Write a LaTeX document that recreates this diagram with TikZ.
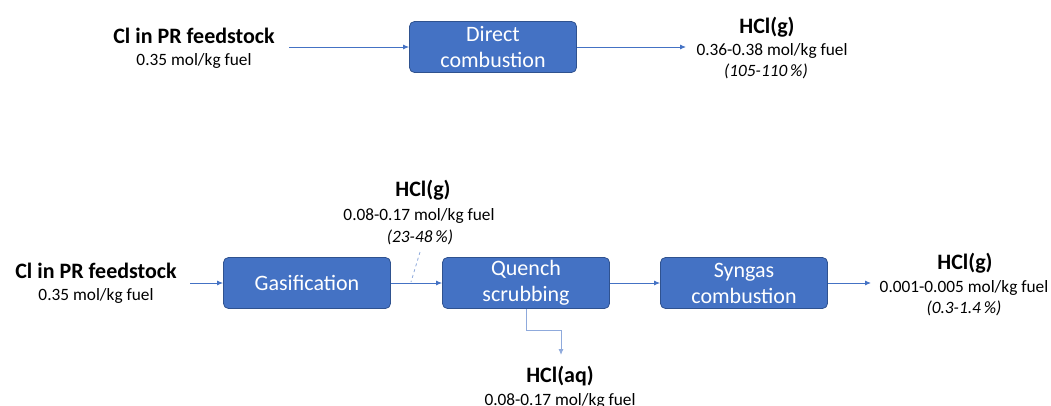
\documentclass[tikz,border=0pt]{standalone}
\usepackage{fontspec}
\setmainfont{Carlito}
\usetikzlibrary{arrows.meta}
\definecolor{boxblue}{HTML}{4472C4}
\definecolor{boxedge}{HTML}{2F528F}
\definecolor{lineblue}{HTML}{4472C4}
\definecolor{lightblue}{HTML}{8FAADC}
\begin{document}
\begin{tikzpicture}[x=1pt,y=-1pt,
  proc/.style={rectangle, rounded corners=5pt, fill=boxblue, draw=boxedge, line width=0.8pt,
    minimum width=167pt, minimum height=51pt, text=white,
    font=\fontsize{22}{26}\selectfont, align=center, inner sep=0pt},
  title/.style={font=\bfseries\fontsize{22}{26}\selectfont, anchor=base, inner sep=0pt},
  sub/.style={font=\fontsize{17.3}{20}\selectfont, anchor=base, inner sep=0pt},
  subit/.style={font=\itshape\fontsize{17.3}{20}\selectfont, anchor=base, inner sep=0pt},
  flow/.style={draw=lineblue, line width=0.9pt, -{Latex[length=6pt,width=5pt]}}
]
\useasboundingbox (0,0) rectangle (1051,405);
\clip (0,0) rectangle (1051,405);

% top row
\node[proc] (dc) at (493,47) {Direct\\combustion};
\node[title] (t1) at (194,43) {Cl in PR feedstock};
\node[sub] (t1s) at (194,65) {0.35 mol/kg fuel};
\coordinate (a1s) at (289,47);
\coordinate (a1e) at (686,47);
\draw[flow] (a1s) -- (dc.west);
\draw[flow] (dc.east) -- (a1e);
\node[title] (h1) at (767,33) {HCl(g)};
\node[sub] (h1s) at (772,55) {0.36-0.38 mol/kg fuel};
\node[subit] (h1p) at (766,76) {(105-110\,\%)};

% bottom row
\node[proc] (gas) at (307,283) {Gasification};
\node[proc] (qs) at (526,283) {Quench\\scrubbing};
\node[proc] (sc) at (744,283) {Syngas\\combustion};
\node[title] (t2) at (96,278) {Cl in PR feedstock};
\node[sub] (t2s) at (96,300) {0.35 mol/kg fuel};
\coordinate (a2s) at (190,283);
\coordinate (a2e) at (871,283);
\draw[flow] (a2s) -- (gas.west);
\draw[flow] (gas.east) -- (qs.west);
\draw[flow] (qs.east) -- (sc.west);
\draw[flow] (sc.east) -- (a2e);

\node[title] (h2) at (423,196) {HCl(g)};
\node[sub] (h2s) at (419,220) {0.08-0.17 mol/kg fuel};
\node[subit] (h2p) at (420,242) {(23-48\,\%)};
\coordinate (d1) at (420,252);
\coordinate (d2) at (411,282);
\draw[lightblue, dashed, line width=0.8pt] (d1) -- (d2);

\node[title] (h3) at (965,269) {HCl(g)};
\node[sub] (h3s) at (964,292) {0.001-0.005 mol/kg fuel};
\node[subit] (h3p) at (964,313) {(0.3-1.4\,\%)};

\coordinate (aqtip) at (561,355);
\draw[flow, draw=lightblue] (qs.south) -- ++(0,22) -| (aqtip);
\node[title] (h4) at (560,382) {HCl(aq)};
\node[sub] (h4s) at (560,405) {0.08-0.17 mol/kg fuel};
\end{tikzpicture}
\end{document}
